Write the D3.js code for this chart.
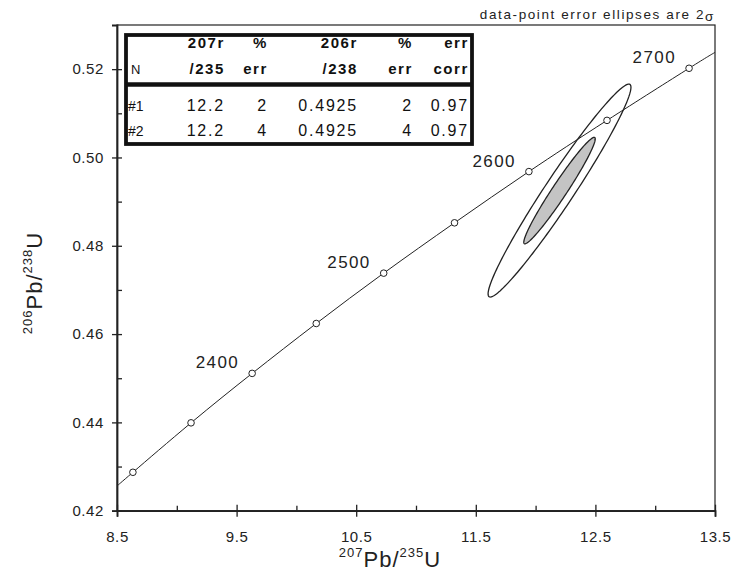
<!DOCTYPE html>
<html>
<head>
<meta charset="utf-8">
<script src="https://cdn.jsdelivr.net/npm/d3@7"></script>
<style>
  html, body { margin: 0; padding: 0; background: #fff; }
  svg { display: block; font-family: "Liberation Sans", Arial, sans-serif; }
</style>
</head>
<body>
<svg id="chart" width="734" height="571"></svg>
<script>
// Axis ticks
const xTicks = [8.5, 9.5, 10.5, 11.5, 12.5, 13.5];
const xMinorTicks = [9.0, 10.0, 11.0, 12.0, 13.0];
const yTicks = [0.42, 0.44, 0.46, 0.48, 0.50, 0.52];
const yMinorTicks = [0.43, 0.45, 0.47, 0.49, 0.51];

// Concordia age markers (Ma) and their ratios
const markerAges = [2300, 2350, 2400, 2450, 2500, 2550, 2600, 2650, 2700];
const markerPb207U235 = [8.633, 9.119, 9.630, 10.166, 10.730, 11.322, 11.944, 12.597, 13.283];
const markerPb206U238 = [0.4287, 0.4399, 0.4511, 0.4624, 0.4738, 0.4852, 0.4968, 0.5084, 0.5202];
const labelledAges = [2400, 2500, 2600, 2700];

// Where the concordia meets the plot edges
const edgePb207U235 = [8.5, 13.5];
const edgePb206U238 = [0.4256, 0.5238];

// Analyses (errors in percent, 2-sigma)
const sampleNames = ["#1", "#2"];
const ratio207_235 = [12.2, 12.2];
const err207_235 = [2, 4];
const ratio206_238 = [0.4925, 0.4925];
const err206_238 = [2, 4];
const errCorr = [0.97, 0.97];

const svg = d3.select("#chart");
const plotLeft = 117, plotRight = 715, plotTop = 25, plotBottom = 510.7;

const x = d3.scaleLinear().domain([8.5, 13.5]).range([plotLeft, plotRight]);
const y = d3.scaleLinear().domain([0.42, 0.53]).range([plotBottom, plotTop]);

const ink = "#222";

// Clip for the plot area
svg.append("defs").append("clipPath").attr("id", "plotClip")
  .append("rect").attr("x", plotLeft).attr("y", plotTop)
  .attr("width", plotRight - plotLeft).attr("height", plotBottom - plotTop);

// Frame (top & right thin)
svg.append("rect")
  .attr("x", plotLeft).attr("y", plotTop)
  .attr("width", plotRight - plotLeft).attr("height", plotBottom - plotTop)
  .attr("fill", "none").attr("stroke", ink).attr("stroke-width", 1.2);

// Concordia curve
const curvePts = [[edgePb207U235[0], edgePb206U238[0]]]
  .concat(markerPb207U235.map((v, i) => [v, markerPb206U238[i]]))
  .concat([[edgePb207U235[1], edgePb206U238[1]]]);

svg.append("path")
  .attr("clip-path", "url(#plotClip)")
  .attr("d", d3.line().x(d => x(d[0])).y(d => y(d[1])).curve(d3.curveNatural)(curvePts))
  .attr("fill", "none").attr("stroke", ink).attr("stroke-width", 1);

// Error ellipses: 95% confidence region from 2-sigma percent errors
function ellipsePoints(cx, ex, cy, ey, rho) {
  const sx = cx * ex / 100 / 2;
  const sy = cy * ey / 100 / 2;
  const k = Math.sqrt(-2 * Math.log(0.05));
  const pts = [];
  for (let i = 0; i <= 180; i++) {
    const t = (i / 180) * 2 * Math.PI;
    pts.push([
      cx + k * sx * Math.cos(t),
      cy + k * sy * (rho * Math.cos(t) + Math.sqrt(1 - rho * rho) * Math.sin(t))
    ]);
  }
  return pts;
}
const ellipseLine = d3.line().x(d => x(d[0])).y(d => y(d[1])).curve(d3.curveLinearClosed);

// Draw the larger ellipse first (open), then the smaller shaded one
const order = d3.range(sampleNames.length).sort((a, b) => err207_235[b] - err207_235[a]);
order.forEach(i => {
  const shaded = err207_235[i] === d3.min(err207_235);
  svg.append("path")
    .attr("d", ellipseLine(ellipsePoints(ratio207_235[i], err207_235[i], ratio206_238[i], err206_238[i], errCorr[i])))
    .attr("fill", shaded ? "#c4c4c4" : "none")
    .attr("stroke", ink).attr("stroke-width", 1.3);
});

// Age markers
svg.append("g").selectAll("circle")
  .data(markerAges.map((a, i) => ({ age: a, vx: markerPb207U235[i], vy: markerPb206U238[i] })))
  .join("circle")
  .attr("cx", d => x(d.vx)).attr("cy", d => y(d.vy))
  .attr("r", 3.3).attr("fill", "#fff").attr("stroke", ink).attr("stroke-width", 1);

// Age labels
svg.append("g").selectAll("text")
  .data(labelledAges.map(a => {
    const i = markerAges.indexOf(a);
    return { age: a, vx: markerPb207U235[i], vy: markerPb206U238[i] };
  }))
  .join("text")
  .attr("x", d => x(d.vx) - 13).attr("y", d => y(d.vy) - 5)
  .attr("text-anchor", "end")
  .attr("font-size", 17).attr("letter-spacing", 1.4).attr("fill", ink)
  .text(d => d.age);

// X axis: major ticks cross the axis line, minor ticks point inward
const xAxis = svg.append("g").attr("transform", `translate(0,${plotBottom})`)
  .call(d3.axisBottom(x).tickValues(xTicks).tickSize(6).tickPadding(15).tickFormat(d3.format(".1f")));
xAxis.selectAll(".tick line").attr("y1", -6).attr("stroke", ink).attr("stroke-width", 1.3);
xAxis.select(".domain").attr("stroke", ink).attr("stroke-width", 1.8);
xAxis.selectAll(".tick text").attr("font-size", 15).attr("letter-spacing", 0.6)
  .attr("fill", ink).attr("font-family", "Liberation Sans, Arial, sans-serif");

const xMinor = svg.append("g").attr("transform", `translate(0,${plotBottom})`)
  .call(d3.axisBottom(x).tickValues(xMinorTicks).tickSize(-5).tickFormat(""));
xMinor.select(".domain").remove();
xMinor.selectAll(".tick line").attr("stroke", ink).attr("stroke-width", 1.3);

// Y axis
const yAxis = svg.append("g").attr("transform", `translate(${plotLeft},0)`)
  .call(d3.axisLeft(y).tickValues(yTicks).tickSize(5).tickPadding(8).tickFormat(d3.format(".2f")));
yAxis.selectAll(".tick line").attr("x1", 5).attr("stroke", ink).attr("stroke-width", 1.3);
yAxis.select(".domain").attr("stroke", ink).attr("stroke-width", 1.8);
yAxis.selectAll(".tick text").attr("font-size", 15).attr("letter-spacing", 0.6)
  .attr("fill", ink).attr("font-family", "Liberation Sans, Arial, sans-serif");

const yMinor = svg.append("g").attr("transform", `translate(${plotLeft},0)`)
  .call(d3.axisLeft(y).tickValues(yMinorTicks).tickSize(-5).tickFormat(""));
yMinor.select(".domain").remove();
yMinor.selectAll(".tick line").attr("stroke", ink).attr("stroke-width", 1.3);

// Axis titles
function isotopeTitle(sel, supA, nameA, supB, nameB) {
  sel.append("tspan").attr("font-size", 13).attr("dy", -10).text(supA);
  sel.append("tspan").attr("font-size", 22).attr("dy", 10).text(nameA);
  sel.append("tspan").attr("font-size", 13).attr("dy", -10).text(supB);
  sel.append("tspan").attr("font-size", 22).attr("dy", 10).text(nameB);
}
const xTitle = svg.append("text").attr("x", 390).attr("y", 567)
  .attr("text-anchor", "middle").attr("fill", ink).attr("letter-spacing", 1);
isotopeTitle(xTitle, "207", "Pb/", "235", "U");

const yTitle = svg.append("text").attr("transform", "translate(42,283) rotate(-90)")
  .attr("text-anchor", "middle").attr("fill", ink).attr("letter-spacing", 1);
isotopeTitle(yTitle, "206", "Pb/", "238", "U");

// Note above the frame
const note = svg.append("text").attr("x", 715).attr("y", 19)
  .attr("text-anchor", "end").attr("font-size", 13.5).attr("letter-spacing", 1.6).attr("fill", ink);
note.append("tspan").text("data-point error ellipses are 2");
note.append("tspan").attr("dy", 2).text("σ");

// Data table
const tbl = { x0: 126, x1: 472, y0: 35, y1: 144 };
const colRight = [null, 225, 268, 358, 413, 469];
const headTop = ["", "207r", "%", "206r", "%", "err"];
const headBottom = ["N", "/235", "err", "/238", "err", "corr"];

const tg = svg.append("g");
tg.append("rect")
  .attr("x", tbl.x0).attr("y", tbl.y0)
  .attr("width", tbl.x1 - tbl.x0).attr("height", tbl.y1 - tbl.y0)
  .attr("fill", "#fff").attr("stroke", "#111").attr("stroke-width", 3.8);
tg.append("line")
  .attr("x1", tbl.x0).attr("x2", tbl.x1).attr("y1", 84.5).attr("y2", 84.5)
  .attr("stroke", "#111").attr("stroke-width", 4.5);

function cellX(c) { return c === 0 ? 131 : colRight[c]; }
function cellAnchor(c) { return c === 0 ? "start" : "end"; }

headTop.forEach((t, c) => {
  tg.append("text").attr("x", cellX(c)).attr("y", 48)
    .attr("text-anchor", cellAnchor(c)).attr("font-weight", "bold")
    .attr("font-size", 15).attr("letter-spacing", 1.6).attr("fill", "#111").text(t);
});
headBottom.forEach((t, c) => {
  tg.append("text").attr("x", cellX(c)).attr("y", 74)
    .attr("text-anchor", cellAnchor(c)).attr("font-weight", c === 0 ? "normal" : "bold")
    .attr("font-size", c === 0 ? 13 : 15).attr("letter-spacing", 1.6).attr("fill", "#111").text(t);
});

sampleNames.forEach((n, i) => {
  const row = [n, ratio207_235[i], err207_235[i], ratio206_238[i], err206_238[i], errCorr[i]];
  const fmt = [String, d3.format(".1f"), String, d3.format(".4f"), String, d3.format(".2f")];
  row.forEach((v, c) => {
    tg.append("text").attr("x", cellX(c) - (c === 0 ? 3 : 0)).attr("y", 111 + i * 25)
      .attr("text-anchor", cellAnchor(c))
      .attr("font-size", c === 0 ? 14 : 16).attr("letter-spacing", c === 0 ? 0 : 1.8)
      .attr("fill", "#111").text(fmt[c](v));
  });
});
</script>
</body>
</html>
